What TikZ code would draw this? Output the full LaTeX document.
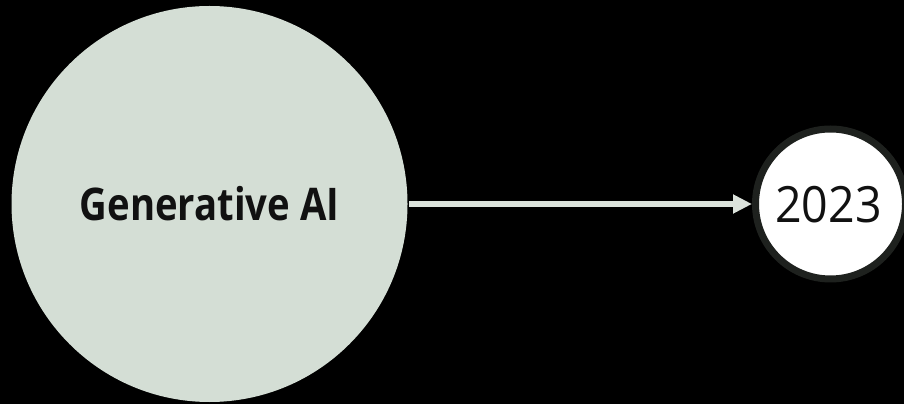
\documentclass[tikz,border=0pt]{standalone}
\usepackage{fontspec}
\setmainfont{Open Sans}
\newfontfamily\genfont[FakeStretch=0.85]{Open Sans}
\newfontfamily\yearfont[FakeStretch=0.93]{Open Sans}
\usetikzlibrary{arrows.meta}
\definecolor{sage}{HTML}{D4DED5}
\definecolor{ringc}{HTML}{1E211E}
\definecolor{arrowc}{HTML}{DCE3DC}
\definecolor{textc}{HTML}{111111}
\tikzset{
  bigcirc/.style={circle, fill=sage, minimum size=396pt, inner sep=0pt},
  yearcirc/.style={circle, fill=white, draw=ringc, line width=7pt, minimum size=150pt, inner sep=0pt},
  conn/.style={draw=arrowc, line width=6pt, -{Triangle[length=19pt,width=18pt]}},
}
\begin{document}
\begin{tikzpicture}[x=1pt,y=1pt]
\fill[black] (0,0) rectangle (904,404);
\useasboundingbox (0,0) rectangle (904,404);
\node[bigcirc] (gen) at (209.5,200) {};
\node[font=\genfont\bfseries\fontsize{45}{54}\selectfont, text=textc, anchor=base, inner sep=0pt] (genlabel) at (209.5,183) {Generative AI};
\node[yearcirc] (year) at (830.5,200) {};
\node[font=\yearfont\fontsize{50}{60}\selectfont, text=textc, anchor=base, inner sep=0pt] (yearlabel) at (828.5,181.5) {2023};
\draw[conn] ([xshift=1.5pt]gen.east) -- (year.west);
\end{tikzpicture}
\end{document}
